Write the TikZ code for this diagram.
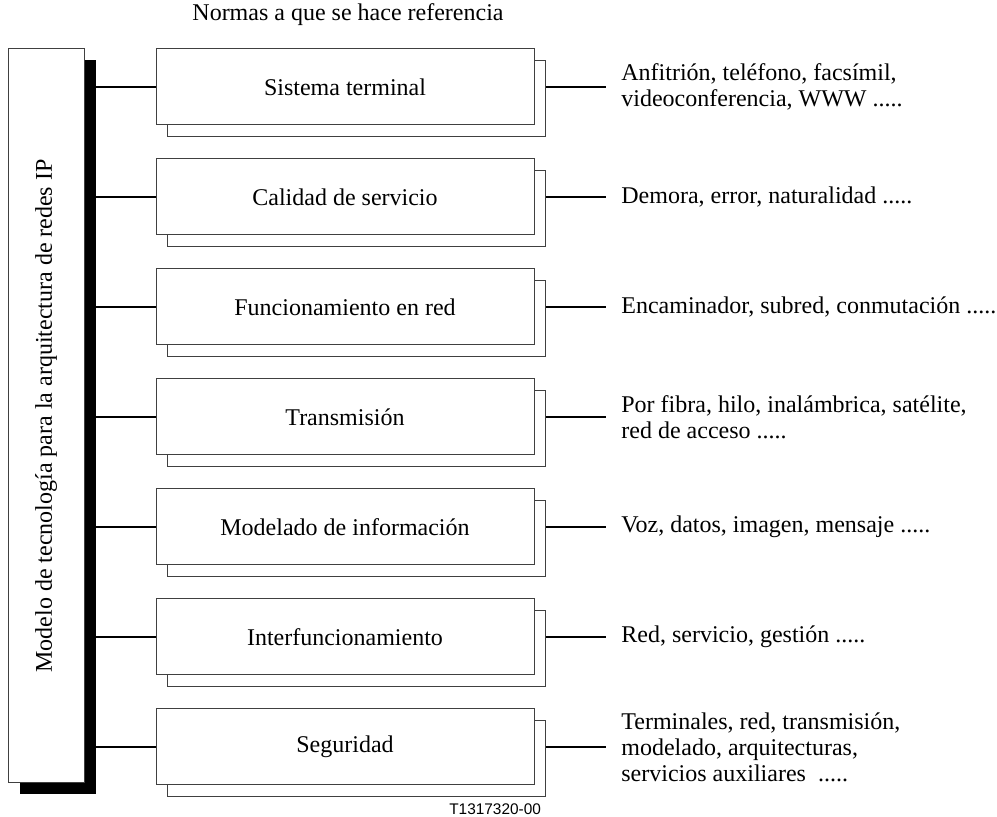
\documentclass[tikz,border=0pt]{standalone}
\usepackage{fontspec}
\setmainfont{Liberation Serif}
\newfontfamily\labelfont{Liberation Sans}
\usetikzlibrary{positioning}

\begin{document}
\begin{tikzpicture}[x=0.5pt,y=-0.5pt,
  font=\fontsize{12}{13}\selectfont,
  normbox/.style={draw=black!75,fill=white,line width=0.5pt,
                  minimum width=189pt,minimum height=38pt,inner sep=0pt},
  link/.style={line width=0.8pt},
  desc/.style={anchor=west,align=left,inner xsep=7.5pt,inner ysep=0pt}]
  \useasboundingbox (0,0) rectangle (997,817);

  % model bar with its shadow
  \node[fill=black,minimum width=38pt,minimum height=367pt,inner sep=0pt]
    (barshadow) at (57.5,427.5) {};
  \node[normbox,minimum width=38pt,minimum height=367pt] (bar) at (46,416) {};
  \node[rotate=90] (bartext) at (bar.center)
    {Modelo de tecnología para la arquitectura de redes IP};

  \node (title) at (348,15) {Normas a que se hace referencia};

  \foreach \lbl/\txt [count=\i from 0] in {
    {Sistema terminal}/{Anfitrión, teléfono, facsímil,\\videoconferencia, WWW .....},
    {Calidad de servicio}/{Demora, error, naturalidad .....},
    {Funcionamiento en red}/{Encaminador, subred, conmutación .....},
    {Transmisión}/{Por fibra, hilo, inalámbrica, satélite,\\red de acceso .....},
    {Modelado de información}/{Voz, datos, imagen, mensaje .....},
    {Interfuncionamiento}/{Red, servicio, gestión .....},
    {Seguridad}/{Terminales, red, transmisión,\\modelado, arquitecturas,\\servicios auxiliares\ \ .....}}
  {
    \node[normbox] (back\i) at (356.5,98.5+110*\i) {};
    \node[normbox] (box\i) at (345,87+110*\i) {\lbl};
    \draw[link] (barshadow.east |- box\i.west) -- (box\i.west);
    \node[desc] (desc\i) at (606,87+110*\i) {\txt};
    \draw[link] (back\i.east |- box\i.east) -- (desc\i.west);
  }

  \node[font=\labelfont\fontsize{7.7}{9}\selectfont,anchor=east]
    (code) at (548,809) {T1317320-00};
\end{tikzpicture}
\end{document}
